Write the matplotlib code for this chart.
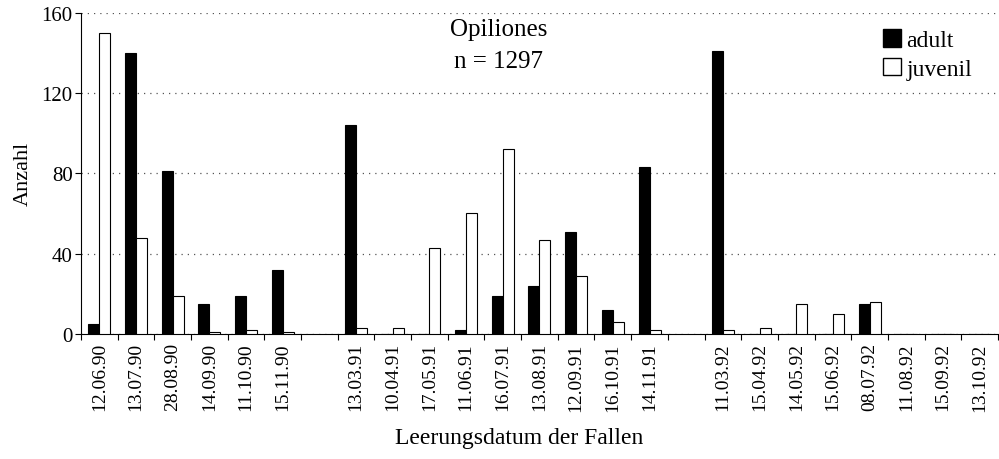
import matplotlib
matplotlib.use("Agg")
import matplotlib.pyplot as plt
from matplotlib.patches import Patch
import numpy as np

plt.rcParams['font.family'] = ['Liberation Serif', 'DejaVu Serif']

# Leerungsdaten der Fallen (Blank-Slot zwischen den Jahren)
dates = ['12.06.90', '13.07.90', '28.08.90', '14.09.90', '11.10.90', '15.11.90',
         '13.03.91', '10.04.91', '17.05.91', '11.06.91', '16.07.91', '13.08.91',
         '12.09.91', '16.10.91', '14.11.91',
         '11.03.92', '15.04.92', '14.05.92', '15.06.92', '08.07.92', '11.08.92',
         '15.09.92', '13.10.92']
adult = [5, 140, 81, 15, 19, 32,
         104, 0, 0, 2, 19, 24, 51, 12, 83,
         141, 0, 0, 0, 15, 0, 0, 0]
juvenil = [150, 48, 19, 1, 2, 1,
           3, 3, 43, 60, 92, 47, 29, 6, 2,
           2, 3, 15, 10, 16, 0, 0, 0]

# Position: eine Leerstelle bei jedem Jahreswechsel
pos = []
gap = 0
for i, d in enumerate(dates):
    if i > 0 and d[-2:] != dates[i - 1][-2:]:
        gap += 1
    pos.append(i + gap)
pos = np.array(pos)
n_slots = pos[-1] + 1

fig = plt.figure(figsize=(9.99, 4.6), dpi=100)
ax = fig.add_axes([0.081, 0.272, 0.918, 0.698])

w = 0.3
ax.bar(pos - w/2, adult, w, color='black', edgecolor='black', linewidth=0.8, zorder=3)
ax.bar(pos + w/2, juvenil, w, color='white', edgecolor='black', linewidth=0.8, zorder=3)

ax.set_xlim(-0.5, n_slots - 0.5)
ax.set_ylim(0, 160)
ax.set_yticks([0, 40, 80, 120, 160])
ax.tick_params(axis='y', labelsize=15, direction='out', length=4, width=0.8, pad=2)

ax.set_xticks(pos)
ax.set_xticklabels(dates, rotation=90, fontsize=14)
ax.tick_params(axis='x', which='major', length=0, pad=6)
ax.set_xticks(np.arange(n_slots + 1) - 0.5, minor=True)
ax.tick_params(axis='x', which='minor', direction='out', length=4, width=0.8)

ax.grid(True, axis='y', linestyle=(0, (1, 4)), color='#555555', linewidth=0.9, zorder=0)
for s in ['top', 'right']:
    ax.spines[s].set_visible(False)
ax.spines['left'].set_linewidth(0.8)
ax.spines['bottom'].set_linewidth(0.8)

ax.set_ylabel('Anzahl', fontsize=16, labelpad=6)
ax.set_xlabel('Leerungsdatum der Fallen', fontsize=17)
ax.xaxis.set_label_coords(0.478, -0.29)

ax.text(0.455, 0.95, 'Opiliones', transform=ax.transAxes, ha='center', va='center', fontsize=18)
ax.text(0.455, 0.85, 'n = 1297', transform=ax.transAxes, ha='center', va='center', fontsize=18)

handles = [Patch(facecolor='black', edgecolor='black', label='adult'),
           Patch(facecolor='white', edgecolor='black', label='juvenil')]
ax.legend(handles=handles, loc='upper right', bbox_to_anchor=(0.995, 1.015), frameon=False,
          fontsize=17, handlelength=0.75, handleheight=0.75, handletextpad=0.25,
          labelspacing=0.3)

fig.savefig('out.png', dpi=100)
